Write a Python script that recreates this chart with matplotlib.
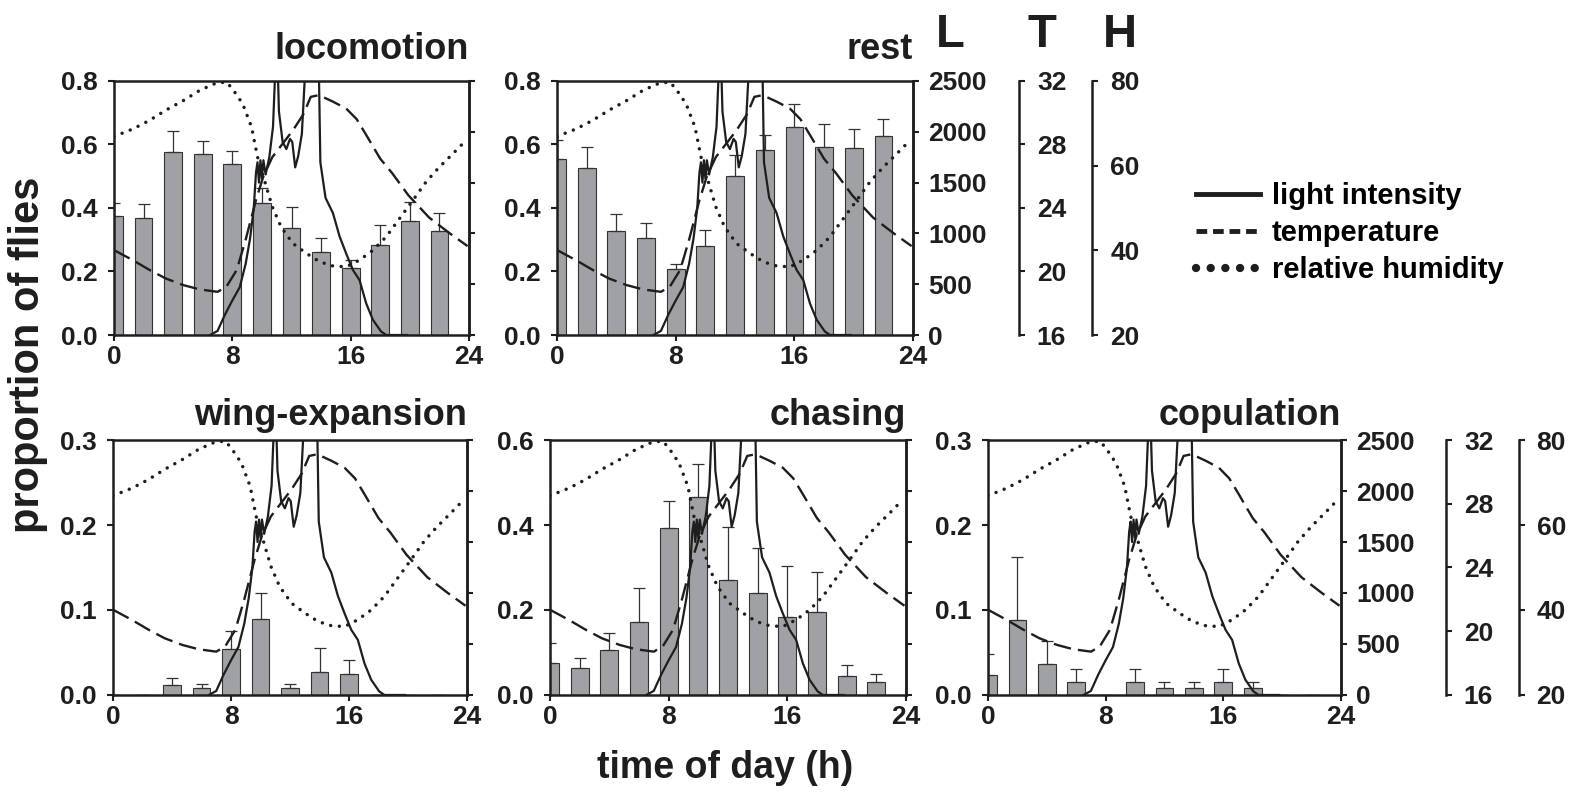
import numpy as np
import matplotlib
matplotlib.use("Agg")
import matplotlib.pyplot as plt
from matplotlib.lines import Line2D

plt.rcParams['font.family'] = ['Liberation Sans', 'DejaVu Sans']
plt.rcParams['font.weight'] = 'bold'

# two-hourly bins
hours = [0, 2, 4, 6, 8, 10, 12, 14, 16, 18, 20, 22]

loco     = [0.376, 0.370, 0.575, 0.570, 0.540, 0.417, 0.336, 0.260, 0.210, 0.285, 0.358, 0.326]
loco_err = [0.040, 0.044, 0.067, 0.040, 0.039, 0.045, 0.067, 0.044, 0.026, 0.063, 0.061, 0.057]
rest     = [0.553, 0.527, 0.326, 0.307, 0.207, 0.279, 0.502, 0.584, 0.656, 0.593, 0.589, 0.628]
rest_err = [0.060, 0.065, 0.056, 0.046, 0.018, 0.052, 0.065, 0.045, 0.073, 0.073, 0.060, 0.052]
wing     = [0.0, 0.0, 0.0117, 0.0086, 0.054, 0.0896, 0.0086, 0.0274, 0.0246, 0.0, 0.0, 0.0]
wing_err = [0.0, 0.0, 0.0083, 0.0044, 0.0215, 0.030, 0.0044, 0.0276, 0.0169, 0.0, 0.0, 0.0]
chase     = [0.0745, 0.063, 0.107, 0.171, 0.392, 0.465, 0.270, 0.239, 0.184, 0.196, 0.044, 0.030]
chase_err = [0.047, 0.023, 0.038, 0.080, 0.064, 0.078, 0.126, 0.106, 0.120, 0.093, 0.026, 0.019]
copu     = [0.023, 0.0887, 0.037, 0.0148, 0.0, 0.0148, 0.0078, 0.0078, 0.0148, 0.0078, 0.0, 0.0]
copu_err = [0.0247, 0.0733, 0.0267, 0.0162, 0.0, 0.0162, 0.0078, 0.0078, 0.0162, 0.0078, 0.0, 0.0]

# environmental records (same in every panel)
light_h = [6.5, 7.0, 7.5, 8.0, 8.5, 8.9, 9.2, 9.45, 9.6, 9.7, 9.8, 9.9, 10.0, 10.1, 10.25,
           10.5, 10.75, 10.9, 11.0, 11.15, 11.4, 11.65, 11.9, 12.05, 12.25, 12.45, 12.7,
           12.85, 13.0, 13.3, 13.6, 13.85, 13.95, 14.3, 14.8, 15.25, 15.7, 16.15, 16.6,
           17.05, 17.5, 18.05, 18.4, 19.8]
light_v = [0, 40, 200, 340, 470, 700, 950, 1250, 1600, 1700, 1500, 1720, 1540, 1720, 1580,
           1750, 2050, 2600, 3000, 2200, 1900, 1830, 1930, 1900, 1650, 1760, 1980,
           2400, 2800, 3100, 3000, 2600, 1700, 1350, 1200, 970, 800, 640, 540,
           310, 150, 35, 0, 0]

temp_h = [0, 1.3, 2.4, 3.5, 4.7, 5.8, 7.0, 7.6, 8.3, 8.9, 9.6, 10.1, 10.7, 11.4, 12.1, 12.8,
          13.3, 13.8, 14.1, 14.8, 15.7, 16.4, 17.05, 18.0, 18.8, 19.9, 21.3, 22.7, 23.9]
temp_v = [21.35, 20.7, 20.1, 19.56, 19.14, 18.87, 18.72, 19.04, 20.1, 22.0, 24.5, 26.0, 27.2,
          28.05, 28.9, 29.9, 31.0, 31.1, 31.0, 30.7, 30.26, 29.6, 28.6, 27.1, 26.2, 24.8,
          23.4, 22.4, 21.6]

hum_h = [0, 1.3, 2.4, 3.5, 4.7, 5.8, 6.9, 7.6, 8.0, 8.7, 9.3, 9.7, 10.3, 10.7, 11.3, 12.1,
         13.0, 13.9, 14.8, 15.7, 16.6, 17.5, 18.4, 19.3, 20.2, 21.1, 22.0, 22.9, 23.8]
hum_v = [66.9, 68.7, 70.7, 73.1, 75.4, 77.8, 79.5, 79.75, 78.2, 74.6, 69.1, 62.1, 55.0, 50.3,
         45.5, 41.6, 39.3, 37.3, 36.3, 36.1, 37.7, 40.0, 43.2, 47.5, 51.8, 56.2, 59.7, 62.8, 66.0]

bar_gray = '#a0a1a5'
ink = '#1e1e1e'
TS = 19

fig = plt.figure(figsize=(15.83, 7.98), dpi=100)


def panel(rect, title, vals, errs, ymax, ystep, right_axes, tpad):
    ax = fig.add_axes(rect)
    ax.bar(hours, vals, width=1.2, color=bar_gray, edgecolor='#333333', linewidth=0.8,
           yerr=[np.zeros(len(errs)), errs],
           error_kw=dict(ecolor='#333333', elinewidth=0.9, capsize=4.5, capthick=0.9))
    ax.set_xlim(0, 24)
    ax.set_ylim(0, ymax)
    ax.set_xticks([0, 8, 16, 24])
    ax.set_yticks(np.arange(0, ymax + 1e-9, ystep))
    ax.yaxis.set_major_formatter('{x:.1f}')
    ax.tick_params(axis='y', direction='out', length=4, width=1.5, labelsize=TS, pad=8, colors=ink)
    ax.tick_params(axis='x', direction='out', length=4, width=1.5, labelsize=TS, pad=3, colors=ink)
    for s in ax.spines.values():
        s.set_linewidth(1.8)
        s.set_color(ink)
    ax.set_title(title, loc='right', fontsize=26, fontweight='bold', pad=tpad, color=ink)

    axL = ax.twinx()
    axL.plot(light_h, light_v, color=ink, lw=1.6)
    axL.set_ylim(0, 2500)
    axL.set_yticks(range(0, 2501, 500))
    axL.tick_params(direction='out', length=4, width=1.5, labelsize=TS, pad=7, colors=ink)
    if not right_axes:
        axL.set_yticklabels([])
    for k, s in axL.spines.items():
        s.set_visible(k == 'right')
        s.set_linewidth(1.8)
        s.set_color(ink)

    axT = ax.twinx()
    axT.plot(temp_h, temp_v, color=ink, lw=1.7, ls=(0, (7.5, 3)))
    axT.set_ylim(16, 32)
    axH = ax.twinx()
    axH.plot(hum_h, hum_v, color=ink, lw=2.5, ls=(0, (0.01, 2.5)), dash_capstyle='round')
    axH.set_ylim(20, 80)

    for a, pos, ticks in [(axT, 1.297, [16, 20, 24, 28, 32]), (axH, 1.503, [20, 40, 60, 80])]:
        for k, s in a.spines.items():
            s.set_visible(k == 'right' and right_axes)
        if right_axes:
            a.spines['right'].set_position(('axes', pos))
            a.spines['right'].set_linewidth(1.8)
            a.spines['right'].set_color(ink)
            a.set_yticks(ticks)
            a.tick_params(direction='out', length=4, width=1.5, labelsize=TS, pad=9, colors=ink)
        else:
            a.set_yticks([])
    return ax


panel([0.0720, 0.5802, 0.2243, 0.3183], 'locomotion', loco, loco_err, 0.8, 0.2, False, 16)
panel([0.3519, 0.5802, 0.2249, 0.3183], 'rest', rest, rest_err, 0.8, 0.2, True, 16)
panel([0.0714, 0.1291, 0.2236, 0.3195], 'wing-expansion', wing, wing_err, 0.3, 0.1, False, 11)
panel([0.3474, 0.1291, 0.2249, 0.3195], 'chasing', chase, chase_err, 0.6, 0.2, False, 11)
panel([0.6241, 0.1291, 0.2230, 0.3195], 'copulation', copu, copu_err, 0.3, 0.1, True, 11)

# scale headers
for lab, x in [('L', 936), ('T', 1027), ('H', 1103)]:
    fig.text(x / 1583, 1 - 47 / 798, lab, fontsize=34, fontweight='bold', ha='left',
             va='baseline', color=ink)

fig.text(0.018, 0.555, 'proportion of flies', rotation=90, ha='center', va='center',
         fontsize=30, fontweight='bold', color=ink)
fig.text(0.458, 0.038, 'time of day (h)', ha='center', va='center',
         fontsize=27, fontweight='bold', color=ink)

handles = [Line2D([], [], color=ink, lw=3.5),
           Line2D([], [], color=ink, lw=3.5, ls=(0, (2.2, 1.2))),
           Line2D([], [], color=ink, lw=6, ls=(0, (0.01, 1.75)), dash_capstyle='round')]
labels = ['light intensity', 'temperature', 'relative humidity']
fig.legend(handles, labels, loc='center left', bbox_to_anchor=(1196 / 1583, 1 - 233 / 798),
           frameon=False, fontsize=21, handlelength=2.2, handletextpad=0.4,
           labelspacing=0.3, borderpad=0, borderaxespad=0)

fig.savefig('out.png', dpi=100)
